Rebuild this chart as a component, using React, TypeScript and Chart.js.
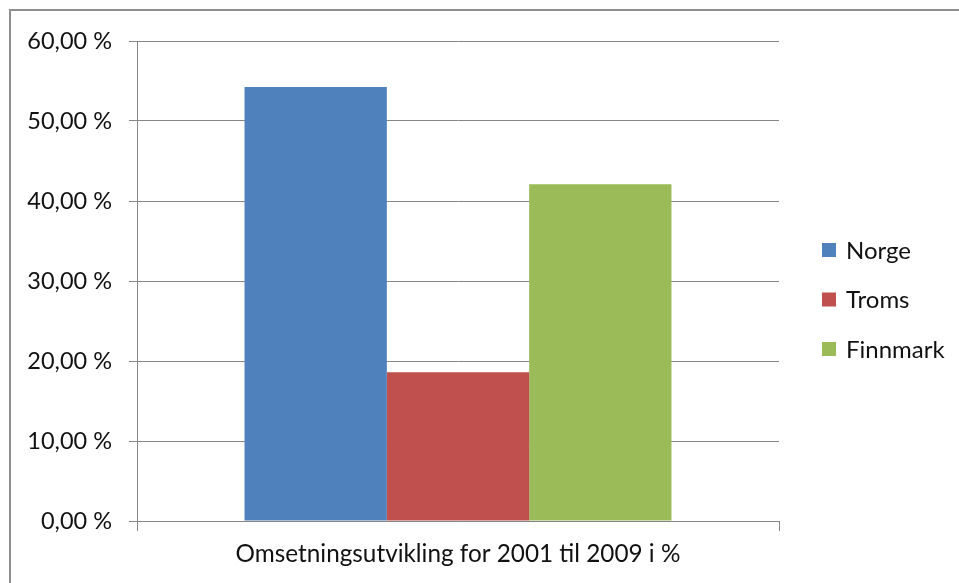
import React, { useEffect, useRef } from "react";
import { Chart, registerables } from "chart.js";

Chart.register(...registerables);

// Revenue growth 2001–2009, percent
const categories = ["Omsetningsutvikling for 2001 til 2009 i %"];
const seriesNames = ["Norge", "Troms", "Finnmark"];
const norgeValues = [54.25];
const tromsValues = [18.6];
const finnmarkValues = [42.1];
const seriesColors = ["#4F81BD", "#C0504D", "#9BBB59"];
const yTickMin = 0;
const yTickMax = 60;
const yTickStep = 10;

const FONT_FAMILY = "Lato, 'Open Sans', sans-serif";
const AXIS_COLOR = "#868686";
const TEXT_COLOR = "#111111";

const formatPercent = (v: number) => `${v.toFixed(2).replace(".", ",")} %`;

// Legend drawn to the right of the plot: colour square followed by the series name
const sideLegend = {
  id: "sideLegend",
  afterDraw(chart: Chart) {
    const ctx = chart.ctx;
    const area = chart.chartArea;
    ctx.save();
    ctx.font = `24px ${FONT_FAMILY}`;
    ctx.textBaseline = "middle";
    ctx.textAlign = "left";
    const boxX = area.right + 43;
    const firstY = 250;
    const rowGap = 49.5;
    chart.data.datasets.forEach((ds, i) => {
      const cy = firstY + i * rowGap;
      ctx.fillStyle = ds.backgroundColor as string;
      ctx.fillRect(boxX, cy - 7, 14, 14);
      ctx.fillStyle = TEXT_COLOR;
      ctx.fillText(ds.label as string, boxX + 24, cy + 1);
    });
    ctx.restore();
  },
};

export default function App() {
  const canvasRef = useRef<HTMLCanvasElement | null>(null);

  useEffect(() => {
    let chart: Chart | null = null;
    let cancelled = false;
    const build = () => {
      if (cancelled || !canvasRef.current) return;
      const seriesValues = [norgeValues, tromsValues, finnmarkValues];
      chart = new Chart(canvasRef.current, {
        type: "bar",
        data: {
          labels: categories,
          datasets: seriesNames.map((name, i) => ({
            label: name,
            data: seriesValues[i],
            backgroundColor: seriesColors[i],
            borderWidth: 0,
            categoryPercentage: 0.665,
            barPercentage: 1,
          })),
        },
        options: {
          responsive: false,
          animation: false,
          events: [],
          layout: { padding: { top: 41, left: 0, right: 180, bottom: 0 } },
          plugins: {
            legend: { display: false },
            tooltip: { enabled: false },
            title: { display: false },
          },
          scales: {
            x: {
              type: "category",
              offset: true,
              grid: {
                offset: true,
                drawOnChartArea: false,
                drawTicks: true,
                tickLength: 10,
                color: AXIS_COLOR,
              },
              border: { display: true, color: AXIS_COLOR },
              ticks: {
                color: TEXT_COLOR,
                font: { family: FONT_FAMILY, size: 24.3 },
                padding: 9,
                maxRotation: 0,
                autoSkip: false,
              },
              afterFit(scale: any) {
                scale.height = 62;
              },
            },
            y: {
              min: yTickMin,
              max: yTickMax,
              ticks: {
                stepSize: yTickStep,
                color: TEXT_COLOR,
                font: { family: FONT_FAMILY, size: 23.5 },
                padding: 17,
                callback: (v: any) => formatPercent(Number(v)),
              },
              grid: {
                color: AXIS_COLOR,
                tickLength: 8,
                drawTicks: true,
              },
              border: { display: true, color: AXIS_COLOR },
              afterFit(scale: any) {
                scale.width = 137;
              },
            },
          },
        },
        plugins: [sideLegend],
      });
    };
    const fontsReady = (document as any).fonts
      ? Promise.all([
          (document as any).fonts.load(`23px Lato`),
        ]).catch(() => null)
      : Promise.resolve(null);
    fontsReady.then(build);
    return () => {
      cancelled = true;
      if (chart) chart.destroy();
    };
  }, []);

  return (
    <div
      style={{
        position: "fixed",
        left: 0,
        top: 0,
        width: 959,
        height: 583,
        background: "#ffffff",
        overflow: "hidden",
      }}
    >
      <div
        style={{
          position: "absolute",
          left: 9,
          top: 9,
          width: 980,
          height: 600,
          borderLeft: "2px solid #8f8f8f",
          borderTop: "2px solid #8f8f8f",
          boxSizing: "border-box",
        }}
      />
      <canvas
        ref={canvasRef}
        width={959}
        height={583}
        style={{ position: "absolute", left: 0, top: 0, width: 959, height: 583 }}
      />
    </div>
  );
}
